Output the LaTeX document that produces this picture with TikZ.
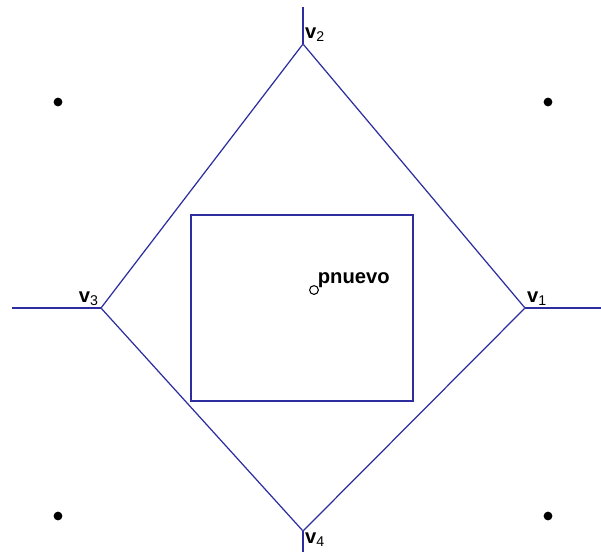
\documentclass[tikz,border=0pt]{standalone}
\usepackage{fontspec}
\setmainfont{Liberation Sans}
\usetikzlibrary{positioning}
\definecolor{edgeblue}{RGB}{45,45,160}

\begin{document}
\begin{tikzpicture}[
  x=0.02cm, y=-0.02cm,
  edge/.style={draw=edgeblue, line width=0.7pt},
  vtx/.style={inner sep=0pt, minimum size=0pt},
  lbl/.style={font=\bfseries\fontsize{11.5}{13}\selectfont, inner sep=1pt},
  site/.style={circle, fill=black, inner sep=0pt, minimum size=5pt}
]
  \useasboundingbox (0,0) rectangle (601,552);

  % vertices of the diamond
  \node[vtx] (V1) at (525,308) {};
  \node[vtx] (V2) at (303,44) {};
  \node[vtx] (V3) at (101,308) {};
  \node[vtx] (V4) at (303,531) {};
  \coordinate (E1) at (601,308);
  \coordinate (E2) at (303,7);
  \coordinate (E3) at (12,308);
  \coordinate (E4) at (303,552);

  \node[lbl, anchor=south west] at (V1) {v\textsubscript{\mdseries 1}};
  \node[lbl, anchor=south west] at (V2) {v\textsubscript{\mdseries 2}};
  \node[lbl, anchor=south east] at (V3) {v\textsubscript{\mdseries 3}};
  \node[lbl, anchor=north west] at (V4) {v\textsubscript{\mdseries 4}};

  \path[edge] (V1) -- (V2) -- (V3) -- (V4) -- (V1);
  \path[edge] (V1) -- (E1);
  \path[edge] (V2) -- (E2);
  \path[edge] (V3) -- (E3);
  \path[edge] (V4) -- (E4);

  % box
  \node[draw=edgeblue, line width=0.9pt, inner sep=0pt, minimum width=222*0.02cm,
    minimum height=186*0.02cm] (box) at (302,308) {};

  % new point
  \node[circle, draw=black, inner sep=0pt, minimum size=5pt, line width=0.6pt] (pn) at (314,290) {};
  \node[lbl, anchor=south west, inner sep=0pt] at ([yshift=-1pt]pn.north east) {pnuevo};

  % sites
  \node[site] (s1) at (58,102) {};
  \node[site] (s2) at (548,102) {};
  \node[site] (s3) at (58,516) {};
  \node[site] (s4) at (548,516) {};
\end{tikzpicture}
\end{document}
